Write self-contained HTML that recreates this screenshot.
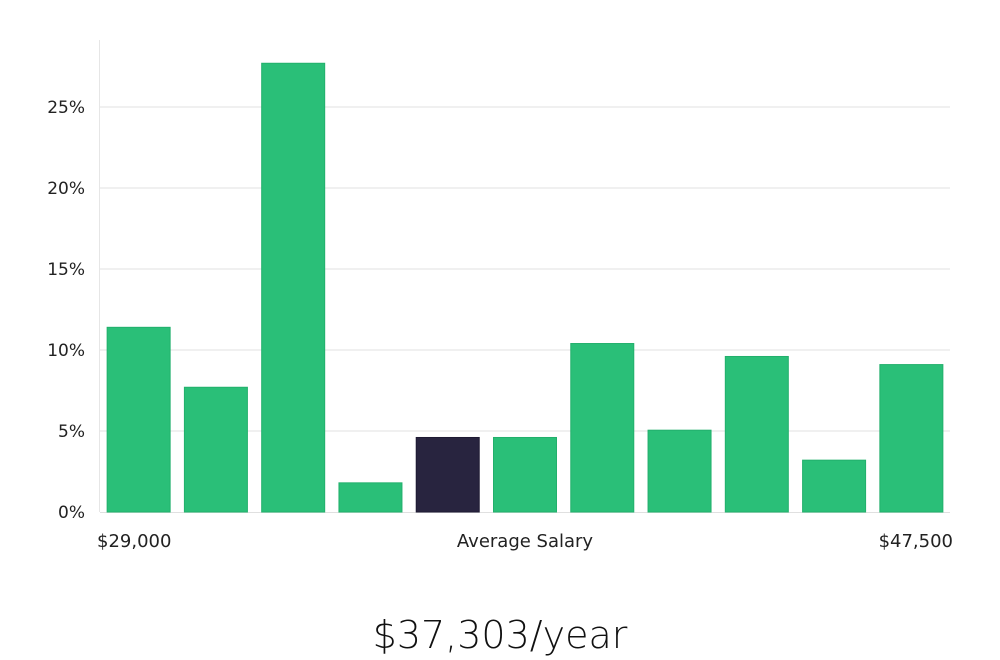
<!DOCTYPE html>
<html><head><meta charset="utf-8">
<style>
html,body{margin:0;padding:0;background:#fff;width:1000px;height:660px;overflow:hidden;font-family:"Liberation Sans","DejaVu Sans",sans-serif;}
svg text{font-family:"DejaVu Sans","Liberation Sans",sans-serif;}
</style></head>
<body>
<svg id="chart" width="1000" height="660" xmlns="http://www.w3.org/2000/svg"></svg>
<script>
const values = [11.4, 7.7, 27.7, 1.8, 4.6, 4.6, 10.4, 5.05, 9.6, 3.2, 9.1];
const highlightIndex = [4];
const yTicks = [0, 5, 10, 15, 20, 25];
const xLabels = ["$29,000", "Average Salary", "$47,500"];
const titleText = "$37,303/year";

const svgEl = document.getElementById('chart');
const NS = 'http://www.w3.org/2000/svg';
const plotLeft = 100, plotRight = 950, baseY = 512, pxPerPct = 16.2, plotTop = 40;
function yPos(v){ return baseY - v * pxPerPct; }
const slot = (plotRight - plotLeft) / values.length;
function xSlot(i){ return plotLeft + i * slot; }
function mk(tag, attrs){ const e = document.createElementNS(NS, tag); for (const k in attrs) e.setAttribute(k, attrs[k]); svgEl.appendChild(e); return e; }

yTicks.forEach(t => {
  if (t > 0) {
    const g = mk('line', {x1: plotLeft, x2: plotRight, y1: yPos(t), y2: yPos(t), stroke: '#e0e0e0', 'stroke-width': 1});
    
    
  }
  const lb = mk('text', {x: 85, y: yPos(t) + 6, 'text-anchor': 'end', 'font-size': 17, fill: '#222'});
  lb.textContent = t + '%';
  
  
});
const ax = mk('line', {x1: 99.5, x2: 99.5, y1: plotTop, y2: baseY, stroke: '#e6e6e6', 'stroke-width': 1});


const bxl = mk('line', {x1: plotLeft, x2: plotRight, y1: baseY + 0.5, y2: baseY + 0.5, stroke: '#e0e0e0', 'stroke-width': 1});



values.forEach((v, i) => {
  const hl = highlightIndex.includes(i);
  const w = 63;
  const bx0 = xSlot(i) + (slot - w) / 2;
  const r = mk('rect', {x: bx0, y: yPos(v), width: w, height: baseY - yPos(v), fill: hl ? '#28243f' : '#2abf78', stroke: hl ? '#1e1a33' : '#22b06c', 'stroke-width': 1});
  
  
});

const xl = [[97, 'start'], [525, 'middle'], [953, 'end']];
xLabels.forEach((s, i) => {
  const t = mk('text', {x: xl[i][0], y: 547, 'text-anchor': xl[i][1], 'font-size': 18, fill: '#222'});
  t.textContent = s;
  
  
});
const ti = mk('text', {x: 500, y: 648, 'text-anchor': 'middle', 'font-size': 38, fill: '#111', 'font-weight': 300});
ti.textContent = titleText;


</script>
</body></html>
